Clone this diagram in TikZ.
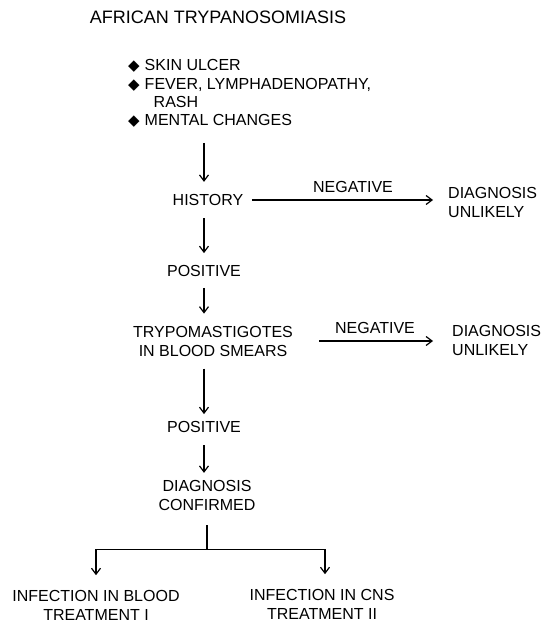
\documentclass[tikz,border=0pt]{standalone}
\usepackage{fontspec}
\setmainfont{Liberation Sans}
\newfontfamily\symfont{DejaVu Sans}
\usetikzlibrary{arrows.meta}
\newcommand{\dia}{{\symfont\fontsize{15}{15}\selectfont ◆}}
\begin{document}
\begin{tikzpicture}[x=1pt,y=-1pt,
  ln/.style={line width=1.2pt},
  arr/.style={ln,-{Straight Barb[length=6pt,width=9pt,line width=1.2pt]}},
  txt/.style={inner sep=0pt,align=center,font=\fontsize{16}{19}\selectfont},
  ltxt/.style={inner sep=0pt,align=left,font=\fontsize{16}{19}\selectfont}]
\useasboundingbox (0,0) rectangle (545,623);
\coordinate (col) at (204,0);

\node[inner sep=0pt,font=\fontsize{18}{20}\selectfont] (title) at (218,17) {AFRICAN TRYPANOSOMIASIS};

\node[inner sep=0pt,anchor=base west,font=\fontsize{16}{18.3}\selectfont] (bul) at (128,70.75)
 {\begin{tabular}[t]{@{}l@{\hspace{5pt}}l@{}}
  \dia & SKIN ULCER\\
  \dia & FEVER, LYMPHADENOPATHY,\\
       & \hspace{9pt}RASH\\
  \dia & MENTAL CHANGES
  \end{tabular}};

\node[txt] (hist) at (208,200) {HISTORY};
\node[txt] (pos1) at (204,271) {POSITIVE};
\node[txt] (tryp) at (213,341) {TRYPOMASTIGOTES\\IN BLOOD SMEARS};
\node[txt] (pos2) at (204,427) {POSITIVE};
\node[txt] (diag) at (207,495.5) {DIAGNOSIS\\CONFIRMED};

\node[ltxt,anchor=west] (du1) at (448,202.5) {DIAGNOSIS\\UNLIKELY};
\node[ltxt,anchor=west] (du2) at (452,340.5) {DIAGNOSIS\\UNLIKELY};
\node[txt] (neg1) at (353,187) {NEGATIVE};
\node[txt] (neg2) at (375,328) {NEGATIVE};

\node[txt] (inf1) at (96,605.5) {INFECTION IN BLOOD\\TREATMENT I};
\node[txt] (inf2) at (322,604.5) {INFECTION IN CNS\\TREATMENT II};

\draw[arr,shorten <=11.5pt,shorten >=12.25pt] (bul.south -| col) -- (hist.north -| col);
\draw[arr,shorten <=12.25pt,shorten >=12pt] (hist.south -| col) -- (pos1.north -| col);
\draw[arr,shorten <=11pt,shorten >=12pt] (pos1.south -| col) -- (tryp.north -| col);
\draw[arr,shorten <=12.25pt,shorten >=7pt] (tryp.south -| col) -- (pos2.north -| col);
\draw[arr,shorten <=12.25pt,shorten >=7.25pt] (pos2.south -| col) -- (diag.north -| col);

\draw[arr,shorten <=8.5pt,shorten >=15pt] (hist.east) -- (hist.east -| du1.west);
\draw[arr,shorten <=26pt,shorten >=19pt] (tryp.east) -- (tryp.east -| du2.west);

\coordinate (fork) at ([yshift=-38.25pt]diag.south);
\draw[ln] ([yshift=-14.25pt]diag.south) -- (fork);
\draw[arr,shorten >=15pt] (fork) -| (inf1.north);
\draw[arr,shorten >=15pt] (fork) -| ([xshift=3pt]inf2.north);
\end{tikzpicture}
\end{document}
